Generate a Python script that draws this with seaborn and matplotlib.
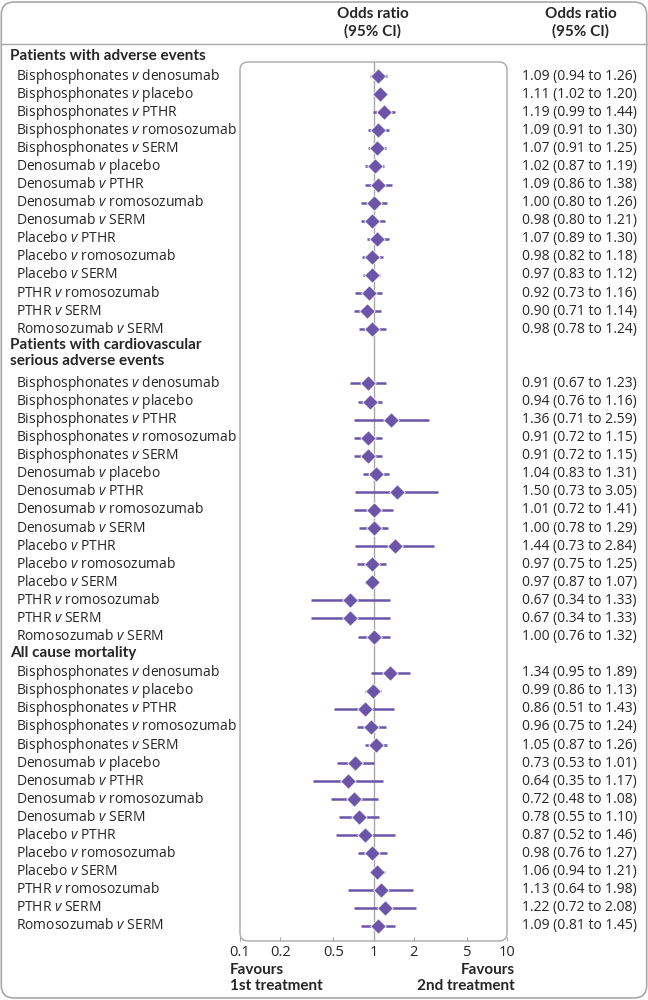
import numpy as np
import pandas as pd
import matplotlib
matplotlib.use("Agg")
import matplotlib.pyplot as plt
import seaborn as sns
from matplotlib.patches import FancyBboxPatch
from matplotlib.transforms import blended_transform_factory

# Data
comparisons = ["Bisphosphonates v denosumab", "Bisphosphonates v placebo", "Bisphosphonates v PTHR",
               "Bisphosphonates v romosozumab", "Bisphosphonates v SERM", "Denosumab v placebo",
               "Denosumab v PTHR", "Denosumab v romosozumab", "Denosumab v SERM", "Placebo v PTHR",
               "Placebo v romosozumab", "Placebo v SERM", "PTHR v romosozumab", "PTHR v SERM",
               "Romosozumab v SERM"]

groups = ["Patients with adverse events",
          "Patients with cardiovascular\nserious adverse events",
          "All cause mortality"]

ae_or = [1.09, 1.11, 1.19, 1.09, 1.07, 1.02, 1.09, 1.00, 0.98, 1.07, 0.98, 0.97, 0.92, 0.90, 0.98]
ae_lo = [0.94, 1.02, 0.99, 0.91, 0.91, 0.87, 0.86, 0.80, 0.80, 0.89, 0.82, 0.83, 0.73, 0.71, 0.78]
ae_hi = [1.26, 1.20, 1.44, 1.30, 1.25, 1.19, 1.38, 1.26, 1.21, 1.30, 1.18, 1.12, 1.16, 1.14, 1.24]

cv_or = [0.91, 0.94, 1.36, 0.91, 0.91, 1.04, 1.50, 1.01, 1.00, 1.44, 0.97, 0.97, 0.67, 0.67, 1.00]
cv_lo = [0.67, 0.76, 0.71, 0.72, 0.72, 0.83, 0.73, 0.72, 0.78, 0.73, 0.75, 0.87, 0.34, 0.34, 0.76]
cv_hi = [1.23, 1.16, 2.59, 1.15, 1.15, 1.31, 3.05, 1.41, 1.29, 2.84, 1.25, 1.07, 1.33, 1.33, 1.32]

mo_or = [1.34, 0.99, 0.86, 0.96, 1.05, 0.73, 0.64, 0.72, 0.78, 0.87, 0.98, 1.06, 1.13, 1.22, 1.09]
mo_lo = [0.95, 0.86, 0.51, 0.75, 0.87, 0.53, 0.35, 0.48, 0.55, 0.52, 0.76, 0.94, 0.64, 0.72, 0.81]
mo_hi = [1.89, 1.13, 1.43, 1.24, 1.26, 1.01, 1.17, 1.08, 1.10, 1.46, 1.27, 1.21, 1.98, 2.08, 1.45]

ticks = [0.1, 0.2, 0.5, 1, 2, 5, 10]
tick_labels = ["0.1", "0.2", "0.5", "1", "2", "5", "10"]

purple = "#6a55a8"
grey = "#a8a8a8"

sns.set_style("white")
plt.rcParams["font.family"] = ["Open Sans", "DejaVu Sans"]
plt.rcParams["mathtext.fontset"] = "custom"
plt.rcParams["mathtext.it"] = "Open Sans:italic"
plt.rcParams["mathtext.rm"] = "Open Sans"
bold = dict(family=["Lato", "DejaVu Sans"], fontweight="bold", fontsize=11)

# build rows: slot index per row (header rows take slots too)
rows = []
slot = 0
group_slots = []
for g, ors, los, his in zip(groups, [ae_or, cv_or, mo_or], [ae_lo, cv_lo, mo_lo], [ae_hi, cv_hi, mo_hi]):
    group_slots.append(slot)
    slot += g.count("\n") + 1
    for c, o, l, h in zip(comparisons, ors, los, his):
        rows.append({"group": g, "label": c, "or": o, "lo": l, "hi": h, "slot": slot})
        slot += 1
df = pd.DataFrame(rows)

fig = plt.figure(figsize=(6.48, 10), dpi=100)
ax = fig.add_axes([240 / 648, 59 / 1000, 267 / 648, 879 / 1000])

ax.set_xscale("log")
ax.set_xlim(0.1, 10)
ax.set_ylim(48.84, 0.22)
ax.axvline(1, color=grey, lw=1, zorder=1)

ax.hlines(df["slot"], df["lo"], df["hi"], color=purple, lw=1.8, zorder=2)
sns.scatterplot(data=df, x="or", y="slot", marker="D", s=62, color=purple,
                edgecolor="white", linewidth=0.6, zorder=3, ax=ax, legend=False)

for s in ax.spines.values():
    s.set_visible(False)
ax.add_patch(FancyBboxPatch((0, 0), 1, 1, boxstyle="round,pad=0,rounding_size=0.03",
                            transform=ax.transAxes, fill=False, ec=grey, lw=1,
                            clip_on=False, mutation_aspect=267 / 879))
ax.set_xticks(ticks)
ax.set_xticklabels(tick_labels, fontsize=10.5)
ax.xaxis.set_minor_locator(matplotlib.ticker.NullLocator())
ax.tick_params(axis="x", direction="in", length=3, color=grey, pad=3, bottom=True)
ax.set_yticks([])
ax.set_xlabel("")
ax.set_ylabel("")

# left labels and right text
tr = blended_transform_factory(fig.transFigure, ax.transData)
for g, s in zip(groups, group_slots):
    ax.text(0.015, s - 0.5, g, transform=tr, ha="left", va="top",
            linespacing=1.2, clip_on=False, **bold)
for _, r in df.iterrows():
    a, b = r["label"].split(" v ")
    ax.text(0.024, r["slot"], a + " $\\mathit{v}$ " + b, transform=tr, ha="left", va="center",
            fontsize=10, clip_on=False)
    ax.text(0.983, r["slot"], "%.2f (%.2f to %.2f)" % (r["or"], r["lo"], r["hi"]),
            transform=tr, ha="right", va="center", fontsize=10, clip_on=False)

# headers
fig.text(373 / 648, 0.977, "Odds ratio\n(95% CI)", ha="center", va="center",
         linespacing=1.25, **bold)
fig.text(581 / 648, 0.977, "Odds ratio\n(95% CI)", ha="center", va="center",
         linespacing=1.25, **bold)
fig.text(230 / 648, 0.022, "Favours\n1st treatment", ha="left", va="center",
         linespacing=1.2, **bold)
fig.text(515 / 648, 0.022, "Favours\n2nd treatment", ha="right", va="center",
         linespacing=1.2, **bold)

# frame and header rule
fig.add_artist(FancyBboxPatch((0.002, 0.002), 0.996, 0.996,
                              boxstyle="round,pad=0,rounding_size=0.02",
                              transform=fig.transFigure, fill=False, ec=grey, lw=1.2,
                              mutation_aspect=648 / 1000))
fig.add_artist(plt.Line2D([0.002, 0.998], [0.956, 0.956], transform=fig.transFigure,
                          color=grey, lw=1))

fig.savefig("out.png", dpi=100)
